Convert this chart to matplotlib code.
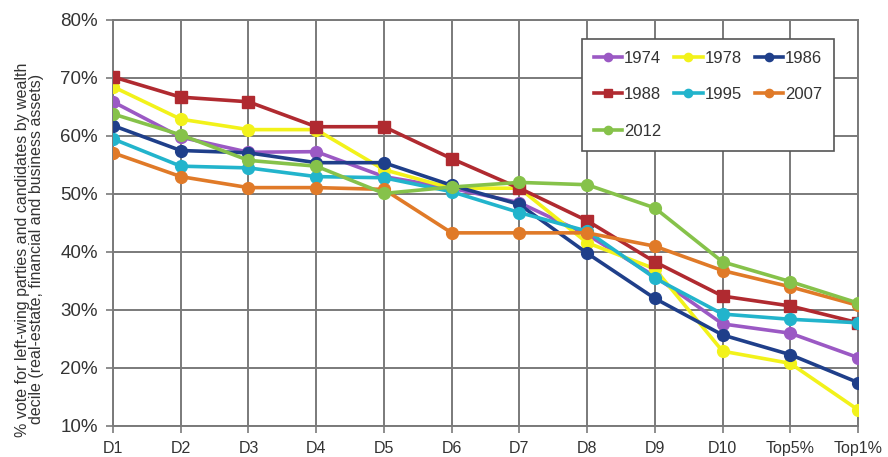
import matplotlib
matplotlib.use("Agg")
import matplotlib.pyplot as plt
from matplotlib.ticker import FuncFormatter

categories = ["D1", "D2", "D3", "D4", "D5", "D6", "D7", "D8", "D9", "D10", "Top5%", "Top1%"]

v1974 = [65.9, 59.8, 57.2, 57.3, 53.0, 51.0, 48.5, 43.0, 35.8, 27.6, 26.0, 21.8]
v1978 = [68.5, 62.9, 61.1, 61.1, 54.2, 51.0, 51.0, 41.6, 37.1, 22.9, 20.8, 12.8]
v1986 = [61.8, 57.5, 57.1, 55.4, 55.4, 51.5, 48.2, 39.8, 32.0, 25.7, 22.3, 17.5]
v1988 = [70.2, 66.7, 65.9, 61.6, 61.6, 56.1, 51.0, 45.4, 38.3, 32.4, 30.7, 27.8]
v1995 = [59.5, 54.8, 54.5, 53.0, 52.8, 50.4, 46.8, 43.6, 35.5, 29.3, 28.4, 27.8]
v2007 = [57.1, 53.0, 51.1, 51.1, 50.8, 43.3, 43.3, 43.3, 41.0, 36.8, 34.0, 30.8]
v2012 = [63.8, 60.2, 55.8, 54.8, 50.1, 51.2, 52.0, 51.6, 47.6, 38.3, 34.9, 31.2]

series = [
    ("1974", v1974, "#9b59c4", "o"),
    ("1978", v1978, "#f2f21a", "o"),
    ("1986", v1986, "#1f3f8a", "o"),
    ("1988", v1988, "#b02a30", "s"),
    ("1995", v1995, "#22b4cc", "o"),
    ("2007", v2007, "#e07a28", "o"),
    ("2012", v2012, "#86c24a", "o"),
]

plt.rcParams['font.family'] = ['Liberation Sans', 'DejaVu Sans']

fig = plt.figure(figsize=(8.88, 4.57), dpi=100)
ax = fig.add_axes([113/888, 1 - 426/457, (858 - 113)/888, (426 - 20)/457])

x = list(range(len(categories)))
handles = {}
for label, vals, col, mk in series:
    h, = ax.plot(x, vals, color=col, lw=2.6, marker=mk, ms=8.5 if mk == "o" else 8,
                 markeredgecolor=col, label=label, zorder=3)
    handles[label] = h

ax.set_xlim(0, len(categories) - 1)
ax.set_ylim(10, 80)
ax.set_xticks(x)
ax.set_xticklabels(categories)
ax.set_yticks(range(10, 81, 10))
ax.yaxis.set_major_formatter(FuncFormatter(lambda v, p: f"{int(v)}%"))
ax.grid(True, color="#7a7a7a", lw=1.4, zorder=0)
for s in ax.spines.values():
    s.set_color("#7a7a7a")
    s.set_linewidth(1.4)
ax.tick_params(axis="both", colors="#7a7a7a", length=5, width=1.2, labelcolor="#333333")
ax.tick_params(axis="y", labelsize=13.5, pad=6)
ax.tick_params(axis="x", labelsize=11.5, pad=6)

ax.set_ylabel("% vote for left-wing parties and candidates by wealth\n"
              "decile (real-estate, financial and business assets)",
              fontsize=11.5, color="#333333", linespacing=0.95)
ax.yaxis.set_label_coords(-(113 - 44) / 745, 0.435)

order = ["1974", "1988", "2012", "1978", "1995", "1986", "2007"]
leg = ax.legend([handles[k] for k in order], order, ncol=3, loc="upper left",
                bbox_to_anchor=((582 - 113)/745, 1 - (39 - 20)/406), borderaxespad=0,
                frameon=True, fancybox=False, fontsize=12, handlelength=1.7,
                handletextpad=0.1, columnspacing=0.8, borderpad=0.7, labelspacing=1.3,
                markerscale=0.7)
leg.get_frame().set_edgecolor("#555555")
leg.get_frame().set_linewidth(1.2)
leg.get_frame().set_alpha(1)
for t in leg.get_texts():
    t.set_color("#333333")

fig.savefig("out.png", dpi=100)
